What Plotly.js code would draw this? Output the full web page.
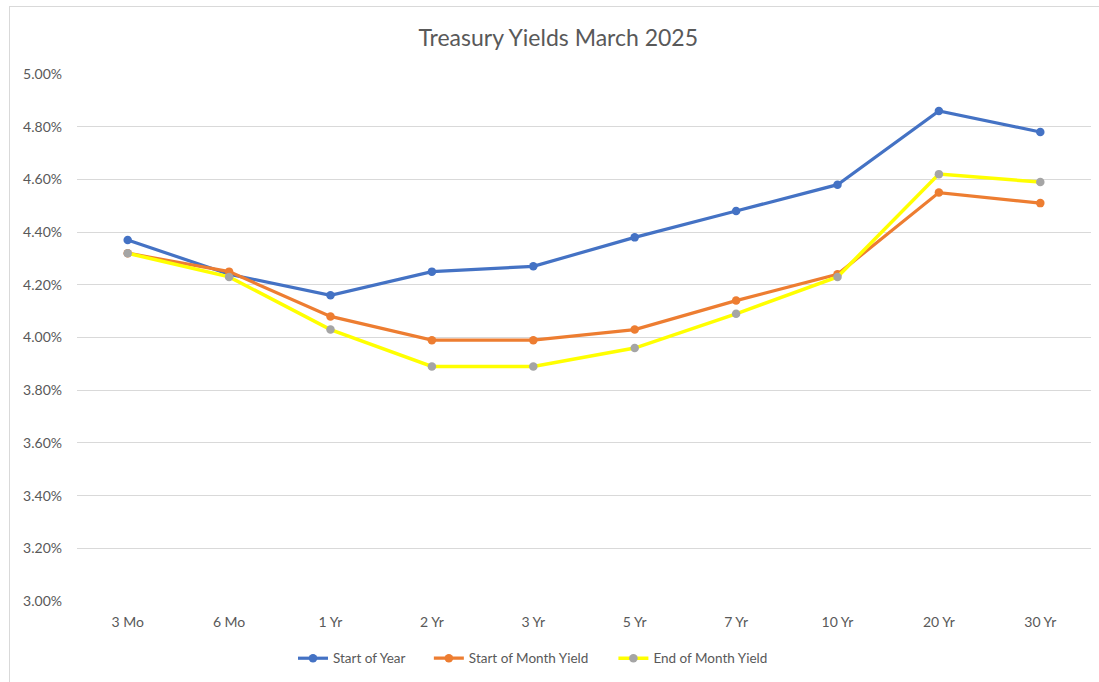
<!DOCTYPE html>
<html>
<head>
<meta charset="utf-8">
<script src="https://cdn.plot.ly/plotly-3.0.1.min.js"></script>
<style>
  html, body { margin: 0; padding: 0; background: #fff; }
  #frame { position: absolute; left: 9px; top: 6px; width: 1200px; height: 800px; border-left: 1px solid #d9d9d9; border-top: 1px solid #d9d9d9; pointer-events: none; }
  #chart { width: 1099px; height: 682px; }
</style>
</head>
<body>
<div id="chart"></div>
<div id="frame"></div>
<script>
const maturities = ["3 Mo", "6 Mo", "1 Yr", "2 Yr", "3 Yr", "5 Yr", "7 Yr", "10 Yr", "20 Yr", "30 Yr"];
const startOfYear = [4.37, 4.24, 4.16, 4.25, 4.27, 4.38, 4.48, 4.58, 4.86, 4.78];
const startOfMonth = [4.32, 4.25, 4.08, 3.99, 3.99, 4.03, 4.14, 4.24, 4.55, 4.51];
const endOfMonth = [4.32, 4.23, 4.03, 3.89, 3.89, 3.96, 4.09, 4.23, 4.62, 4.59];
const yTicks = [3.0, 3.2, 3.4, 3.6, 3.8, 4.0, 4.2, 4.4, 4.6, 4.8, 5.0];

const font = "Lato, 'Open Sans', sans-serif";
const traces = [
  { name: "Start of Year", legend: "legend", x: maturities, y: startOfYear, type: "scatter", mode: "lines+markers",
    line: { color: "#4472C4", width: 3.2 }, marker: { color: "#4472C4", size: 8.5 } },
  { name: "Start of Month Yield", legend: "legend2", x: maturities, y: startOfMonth, type: "scatter", mode: "lines+markers",
    line: { color: "#ED7D31", width: 3.2 }, marker: { color: "#ED7D31", size: 8.5 } },
  { name: "End of Month Yield", legend: "legend3", x: maturities, y: endOfMonth, type: "scatter", mode: "lines+markers",
    line: { color: "#FFFF00", width: 3.5 }, marker: { color: "#A5A5A5", size: 8.5 } }
];

function leg(x) {
  return { orientation: "h", x: x, xanchor: "left", y: -0.109, yanchor: "middle",
           font: { size: 13.5, color: "#595959" }, bgcolor: "rgba(0,0,0,0)" };
}

const layout = {
  width: 1099, height: 682,
  paper_bgcolor: "#ffffff", plot_bgcolor: "#ffffff",
  margin: { l: 77, r: 8, t: 74, b: 81 },
  font: { family: font, color: "#595959", size: 13 },
  title: { text: "Treasury Yields March 2025", x: 0.508, xanchor: "center", y: 0.945, yanchor: "middle",
           font: { family: font, size: 23, color: "#595959" } },
  xaxis: { type: "category", range: [-0.5, 9.5], showgrid: false, showline: false, zeroline: false,
           ticks: "", ticklabelstandoff: 11, tickfont: { size: 14, color: "#595959" } },
  yaxis: { range: [3.0, 5.0], tickvals: yTicks, ticktext: yTicks.map(v => v.toFixed(2) + "%"),
           showgrid: true, gridcolor: "#d9d9d9", gridwidth: 1, zeroline: false, showline: false,
           ticks: "", ticklabelstandoff: 14, tickfont: { size: 14, color: "#595959" } },
  showlegend: true,
  legend: leg(0.213),
  legend2: leg(0.347),
  legend3: leg(0.529)
};

Plotly.newPlot("chart", traces, layout, { displayModeBar: false, staticPlot: true });
</script>
</body>
</html>
